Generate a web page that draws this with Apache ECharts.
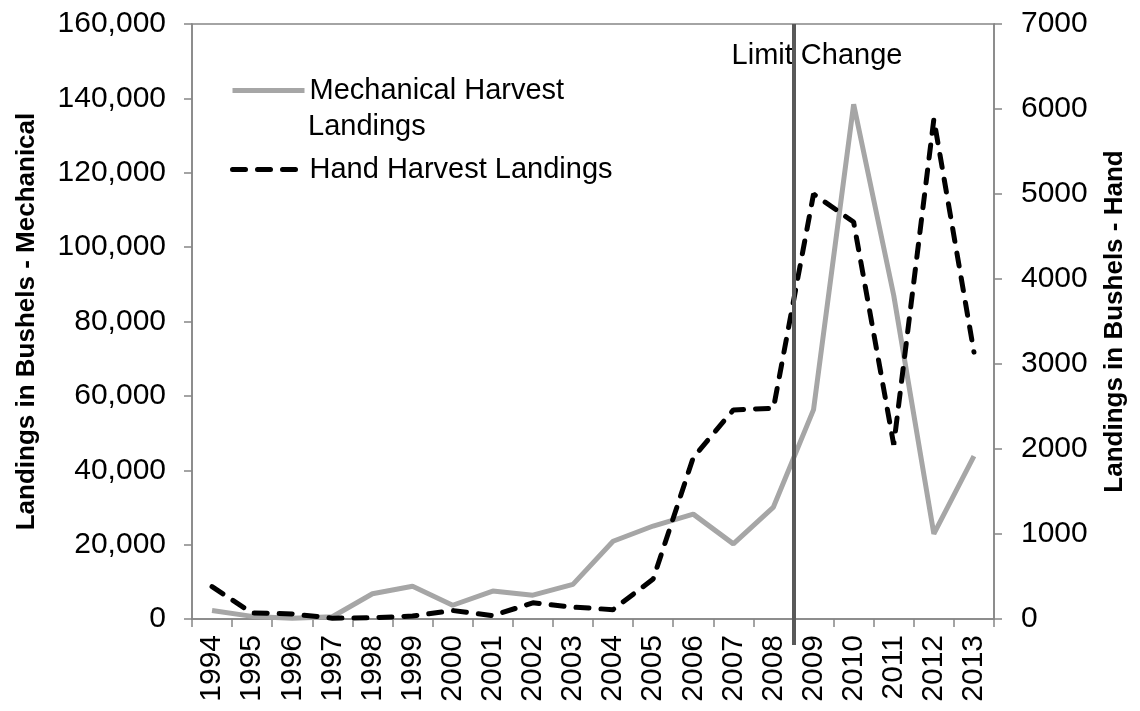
<!DOCTYPE html>
<html>
<head>
<meta charset="utf-8">
<style>
  html, body { margin: 0; padding: 0; background: #fff; }
  #chart { width: 1140px; height: 711px; }
</style>
<script src="https://cdn.jsdelivr.net/npm/echarts/dist/echarts.min.js"></script>
</head>
<body>
<div id="chart"></div>
<script>
const years = ['1994', '1995', '1996', '1997', '1998', '1999', '2000', '2001', '2002', '2003',
  '2004', '2005', '2006', '2007', '2008', '2009', '2010', '2011', '2012', '2013']
// bushels, left axis
const mechanical = [2300, 700, 200, 600, 6800, 8800, 3700, 7500, 6400, 9300,
  20900, 25000, 28200, 20200, 30100, 56300, 138400, 87000, 22900, 43800]
// bushels, right axis
const hand = [380, 70, 60, 10, 15, 35, 100, 40, 190, 140,
  110, 470, 1900, 2460, 2480, 5000, 4670, 2050, 5880, 3140]
const leftTicks = [0, 160000, 20000]   // min, max, interval
const rightTicks = [0, 7000, 1000]
const lastYearBeforeChange = '2008'

const font = '"Liberation Sans", Arial, sans-serif'
const axisGray = '#868686'
const tickSize = 30

const myChart = echarts.init(document.getElementById('chart'))

// the limit line sits on the boundary between two categories
const limitPos = years.indexOf(lastYearBeforeChange) + 1

const legendBase = {
  left: 230,
  padding: 0,
  itemWidth: 72,
  itemHeight: 14,
  itemGap: 0,
  // hide the symbol, keep only the line sample
  itemStyle: { opacity: 0 },
  lineStyle: { width: 5 },
  textStyle: { fontSize: 29, color: '#000', fontFamily: font },
}

myChart.setOption({
  animation: false,
  textStyle: { fontFamily: font },
  grid: [
    {
      left: 192,
      right: 146,
      top: 24,
      bottom: 92,
      show: true,
      borderColor: axisGray,
      borderWidth: 1.5,
    },
    // same box, reaching a bit lower, only for the limit line
    { left: 192, right: 146, top: 24, bottom: 66 },
  ],
  legend: [
    Object.assign({}, legendBase, {
      data: ['Mechanical Harvest Landings'],
      top: 76,
      formatter: () => 'Mechanical Harvest',
    }),
    Object.assign({}, legendBase, {
      data: ['Hand Harvest Landings'],
      top: 155,
    }),
  ],
  graphic: [
    {
      type: 'text',
      x: 308,
      y: 127,
      style: {
        text: 'Landings',
        font: '29px ' + font,
        fill: '#000',
        verticalAlign: 'middle',
      },
    },
    {
      type: 'text',
      x: 817,
      y: 56,
      z: 1,
      style: {
        text: 'Limit Change',
        font: '29px ' + font,
        fill: '#000',
        align: 'center',
        verticalAlign: 'middle',
      },
    },
  ],
  xAxis: [
    {
      type: 'category',
      gridIndex: 0,
      data: years,
      boundaryGap: true,
      axisLine: { lineStyle: { color: axisGray, width: 1.5 } },
      axisTick: { show: true, length: 8, interval: 0, lineStyle: { color: axisGray, width: 1.5 } },
      axisLabel: {
        interval: 0,
        rotate: 90,
        margin: 16,
        fontSize: tickSize,
        color: '#000',
        fontFamily: font,
      },
    },
    { type: 'value', gridIndex: 1, min: 0, max: years.length, show: false },
  ],
  yAxis: [
    {
      type: 'value',
      gridIndex: 0,
      min: leftTicks[0],
      max: leftTicks[1],
      interval: leftTicks[2],
      name: 'Landings in Bushels - Mechanical',
      nameLocation: 'middle',
      nameGap: 152,
      nameTextStyle: { fontSize: 26, fontWeight: 'bold', color: '#000', fontFamily: font },
      splitLine: { show: false },
      axisLine: { show: true, lineStyle: { color: axisGray, width: 1.5 } },
      axisTick: { show: true, length: 8, lineStyle: { color: axisGray, width: 1.5 } },
      axisLabel: {
        margin: 26,
        fontSize: tickSize,
        color: '#000',
        fontFamily: font,
        formatter: (v) => v.toLocaleString('en-US'),
      },
    },
    {
      type: 'value',
      gridIndex: 0,
      position: 'right',
      min: rightTicks[0],
      max: rightTicks[1],
      interval: rightTicks[2],
      name: 'Landings in Bushels - Hand',
      nameLocation: 'middle',
      nameGap: 108,
      nameTextStyle: { fontSize: 26, fontWeight: 'bold', color: '#000', fontFamily: font },
      splitLine: { show: false },
      axisLine: { show: true, lineStyle: { color: axisGray, width: 1.5 } },
      axisTick: { show: true, length: 8, lineStyle: { color: axisGray, width: 1.5 } },
      axisLabel: {
        margin: 27,
        fontSize: tickSize,
        color: '#000',
        fontFamily: font,
        formatter: (v) => String(v),
      },
    },
    { type: 'value', gridIndex: 1, min: 0, max: 1, show: false },
  ],
  series: [
    {
      name: 'Mechanical Harvest Landings',
      type: 'line',
      xAxisIndex: 0,
      yAxisIndex: 0,
      symbol: 'none',
      lineStyle: { color: '#a6a6a6', width: 5 },
      itemStyle: { color: '#a6a6a6' },
      data: mechanical,
    },
    {
      name: 'Hand Harvest Landings',
      type: 'line',
      xAxisIndex: 0,
      yAxisIndex: 1,
      symbol: 'none',
      lineStyle: { color: '#000', width: 5, type: [13, 12], cap: 'round' },
      itemStyle: { color: '#000' },
      data: hand,
    },
    {
      name: 'limit',
      type: 'line',
      xAxisIndex: 1,
      yAxisIndex: 2,
      data: [],
      z: 5,
      markLine: {
        silent: true,
        symbol: 'none',
        label: { show: false },
        lineStyle: { color: '#595959', width: 4, type: 'solid' },
        data: [{ xAxis: limitPos }],
      },
    },
  ],
})
</script>
</body>
</html>
